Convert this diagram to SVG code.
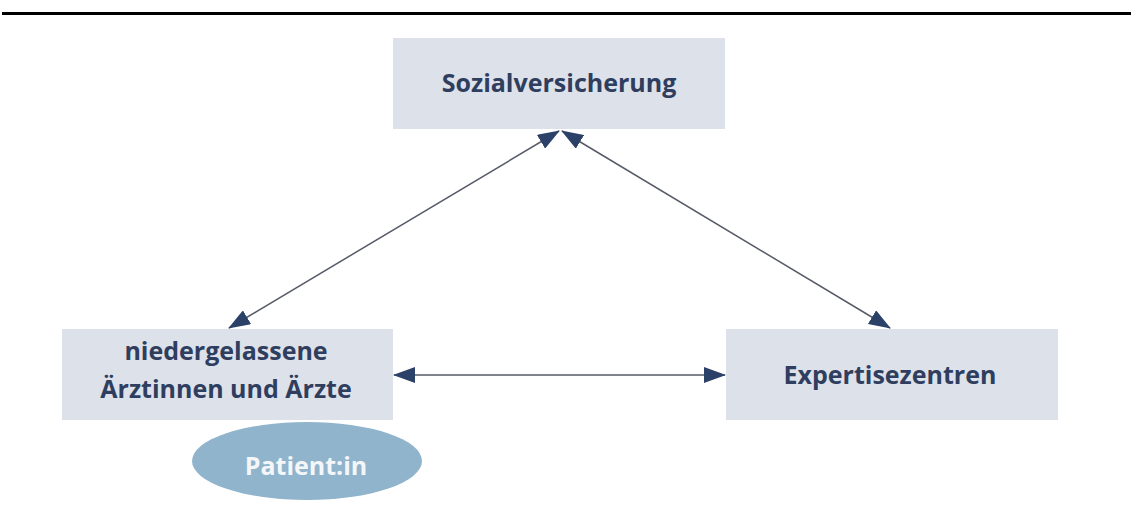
<svg xmlns="http://www.w3.org/2000/svg" width="1131" height="524" viewBox="0 0 1131 524">
<style>
.box{fill:#dde1e9;}
.lbl{font-family:"Open Sans","Noto Sans",sans-serif;font-weight:bold;font-size:25px;fill:#2f3e5e;text-anchor:middle;}
.pat{font-family:"Open Sans","Noto Sans",sans-serif;font-weight:bold;font-size:25px;fill:#f4f6f8;text-anchor:middle;}
.con{stroke:#555a66;stroke-width:1.5;fill:none;marker-start:url(#ah);marker-end:url(#ah);}
</style>
<defs>
<marker id="ah" markerUnits="userSpaceOnUse" markerWidth="22" markerHeight="16" viewBox="0 0 22 16" refX="21" refY="8" orient="auto-start-reverse">
<path d="M0,0 L22,8 L0,16 Z" fill="#2b4167"/>
</marker>
</defs>
<rect x="2" y="12" width="1129" height="3" fill="#000"/>
<g id="sozialversicherung">
<rect class="box" x="393" y="38" width="332" height="91"/>
<text class="lbl" x="559" y="92">Sozialversicherung</text>
</g>
<g id="aerzte">
<rect class="box" x="62" y="329" width="331" height="91"/>
<text class="lbl" x="226" y="360">niedergelassene</text>
<text class="lbl" x="226" y="398">Ärztinnen und Ärzte</text>
</g>
<g id="expertisezentren">
<rect class="box" x="726" y="329" width="332" height="91"/>
<text class="lbl" x="890" y="384">Expertisezentren</text>
</g>
<g id="patient">
<ellipse cx="307" cy="461" rx="115" ry="39" fill="#8fb4cc"/>
<text class="pat" x="306" y="475">Patient:in</text>
</g>
<g id="connectors">
<line class="con" x1="229" y1="328" x2="559" y2="131"/>
<line class="con" x1="562" y1="131" x2="890" y2="328"/>
<line class="con" x1="394" y1="375" x2="725" y2="375"/>
</g>
</svg>
